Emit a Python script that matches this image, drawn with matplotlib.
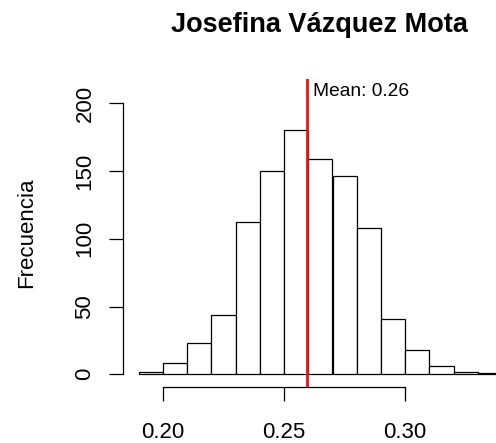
import matplotlib
matplotlib.use("Agg")
import matplotlib.pyplot as plt
import numpy as np

plt.rcParams['font.family'] = ['Liberation Sans', 'DejaVu Sans']

# histogram of simulated vote shares
bin_edges = np.round(np.arange(0.19, 0.351, 0.01), 2)
counts = [2, 8, 23, 44, 112, 150, 180, 159, 146, 108, 41, 18, 6, 2, 1, 0]
mean_val = 0.2595

x_ticks = [0.20, 0.25, 0.30]
x_ticklabels = ["0.20", "0.25", "0.30"]
y_ticks = [0, 50, 100, 150, 200]

title = "Josefina Vázquez Mota"
ylabel = "Frecuencia"

W, H = 496, 443
fig = plt.figure(figsize=(W / 100, H / 100), dpi=100)
ax = fig.add_axes([123.3 / W, 1 - 387 / H, 418.4 / W, 308 / H])

ax.bar(bin_edges[:-1], counts, width=np.diff(bin_edges), align='edge',
       color='white', edgecolor='black', linewidth=0.9)

ax.axvline(mean_val, color='#e8141b', linewidth=2.0, zorder=5)
ax.annotate(f"Mean: {mean_val:.2f}", xy=(mean_val, 208.5), xytext=(4.5, 0),
            textcoords='offset points', ha='left', va='center', fontsize=13.8)

ax.set_xlim(0.1836, 0.3564)
ax.set_ylim(-9.4, 217.9)

for side in ['top', 'right']:
    ax.spines[side].set_visible(False)
ax.spines['bottom'].set_bounds(0.20, 0.30)
ax.spines['left'].set_bounds(0, 200)
ax.spines['bottom'].set_linewidth(0.9)
ax.spines['left'].set_linewidth(0.9)

ax.set_xticks(x_ticks)
ax.set_xticklabels(x_ticklabels)
ax.set_yticks(y_ticks)
ax.tick_params(axis='x', length=10, width=0.9, pad=15, labelsize=16)
ax.tick_params(axis='y', length=10, width=0.9, pad=10, labelsize=16,
               labelrotation=90)
for lab in ax.get_yticklabels():
    lab.set_verticalalignment('center')

fig.text(170.7 / W, 1 - 31.7 / H, title, ha='left', va='baseline',
         fontsize=19.5, fontweight='bold')
fig.text(27 / W, 1 - 233 / H, ylabel, rotation=90, ha='center', va='center',
         fontsize=16)

fig.savefig("out.png", dpi=100)
